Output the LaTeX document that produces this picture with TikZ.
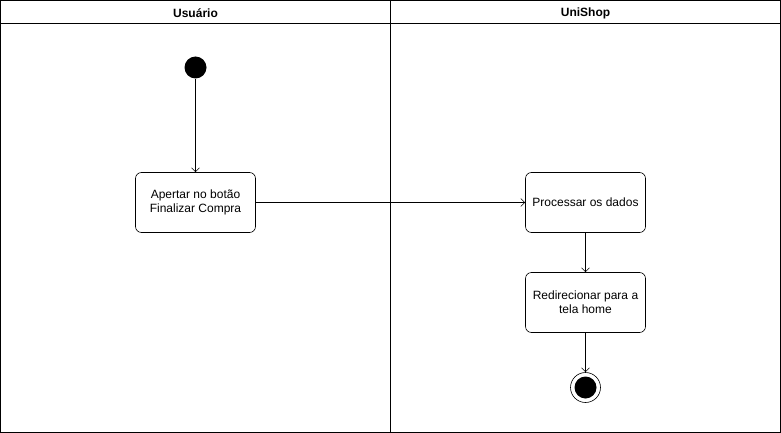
\documentclass[tikz,border=0pt]{standalone}
\usepackage{fontspec}
\setmainfont{Liberation Sans}
\usetikzlibrary{arrows.meta, positioning}

\tikzset{
  action/.style={draw, rounded corners=6pt, minimum width=120pt, minimum height=60pt, align=center, inner sep=2pt},
  flow/.style={-{Straight Barb[length=4pt,width=8pt]}, line width=0.6pt},
  lanehead/.style={font=\fontsize{12}{14}\selectfont\bfseries}
}

\begin{document}
\begin{tikzpicture}[x=1pt, y=-1pt, font=\fontsize{12}{14}\selectfont, line width=0.6pt]

\useasboundingbox (0,0) rectangle (781,433);

%Lanes:
\draw (0.5,0.5) rectangle (780.5,432.5);
\draw (0.5,23.5) -- (780.5,23.5);
\draw (390.5,0.5) -- (390.5,432.5);
\node (HU) [lanehead] at (195.5,13) {Usuário};
\node (HS) [lanehead] at (585.5,13) {UniShop};

\node (I) [circle, fill=black, minimum size=22pt, inner sep=0pt] at (195.5,67.5) {};
\node (A) [action] at (195.5,202.5) {Apertar no botão\\Finalizar Compra};
\node (B) [action] at (585.5,202.5) {Processar os dados};
\node (C) [action] at (585.5,302.5) {Redirecionar para a\\tela home};
\node (O) [circle, draw, minimum size=30pt, inner sep=0pt] at (585.5,387.5) {};
\node (OI) [circle, fill=black, minimum size=22pt, inner sep=0pt] at (O) {};

%Transitions:
\path
(I) edge [flow] (A)
(A) edge [flow] (B)
(B) edge [flow] (C)
(C) edge [flow] (O)
;

\end{tikzpicture}
\end{document}
